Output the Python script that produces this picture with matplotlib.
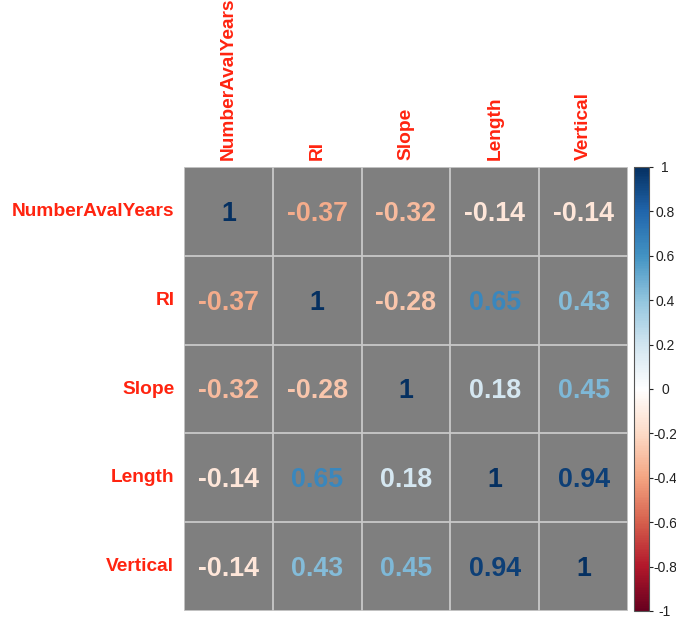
import matplotlib
matplotlib.use("Agg")
import matplotlib.pyplot as plt
import numpy as np
from matplotlib.colors import LinearSegmentedColormap, Normalize
from matplotlib.cm import ScalarMappable

plt.rcParams['font.family'] = ['Liberation Sans', 'DejaVu Sans']

variables = ["NumberAvalYears", "RI", "Slope", "Length", "Vertical"]
row_numberavalyears = [1, -0.37, -0.32, -0.14, -0.14]
row_ri = [-0.37, 1, -0.28, 0.65, 0.43]
row_slope = [-0.32, -0.28, 1, 0.18, 0.45]
row_length = [-0.14, 0.65, 0.18, 1, 0.94]
row_vertical = [-0.14, 0.43, 0.45, 0.94, 1]
corr = np.array([row_numberavalyears, row_ri, row_slope, row_length, row_vertical])

cbar_ticks = [-1, -0.8, -0.6, -0.4, -0.2, 0, 0.2, 0.4, 0.6, 0.8, 1]
cbar_labels = ["-1", "-0.8", "-0.6", "-0.4", "-0.2", "0", "0.2", "0.4", "0.6", "0.8", "1"]

# diverging red-white-blue palette
palette = ["#67001F", "#B2182B", "#D6604D", "#F4A582", "#FDDBC7", "#FFFFFF",
           "#D1E5F0", "#92C5DE", "#4393C3", "#2166AC", "#053061"]
cmap = LinearSegmentedColormap.from_list("rdbu2", palette, N=256)
norm = Normalize(vmin=-1, vmax=1)

W, H = 676, 619
fig = plt.figure(figsize=(W / 100, H / 100), dpi=100)

gl, gr, gt, gb = 184, 628, 167, 611
ax = fig.add_axes([gl / W, (H - gb) / H, (gr - gl) / W, (gb - gt) / H])
n = len(variables)
ax.set_xlim(-0.5, n - 0.5)
ax.set_ylim(n - 0.5, -0.5)
ax.set_facecolor("#7F7F7F")
grid_col = "#C9C9C9"
for k in range(n + 1):
    ax.axvline(k - 0.5, color=grid_col, lw=1.3, zorder=1)
    ax.axhline(k - 0.5, color=grid_col, lw=1.3, zorder=1)
for s in ax.spines.values():
    s.set_visible(False)
ax.set_xticks([])
ax.set_yticks([])

for i in range(n):
    for j in range(n):
        v = corr[i, j]
        ax.annotate(f"{v:g}", xy=(j, i), xycoords="data",
                    xytext=(0, -1.8), textcoords="offset points",
                    ha="center", va="center", fontsize=19.3,
                    fontweight="bold", color=cmap(norm(v)), zorder=3)

label_col = "#FF2410"
for i, name in enumerate(variables):
    # row labels on the left
    ax.annotate(name, xy=(-0.5, i), xycoords="data",
                xytext=(-7, 0), textcoords="offset points",
                ha="right", va="center", fontsize=13.8,
                fontweight="bold", color=label_col, annotation_clip=False)
    # column labels on top
    ax.annotate(name, xy=(i, -0.5), xycoords="data",
                xytext=(0, 5), textcoords="offset points",
                rotation=90, ha="center", va="bottom", fontsize=13.8,
                fontweight="bold", color=label_col, annotation_clip=False)

cax = fig.add_axes([634 / W, (H - gb) / H, 15 / W, (gb - gt) / H])
sm = ScalarMappable(norm=norm, cmap=cmap)
cb = fig.colorbar(sm, cax=cax, ticks=cbar_ticks)
cb.ax.set_yticklabels(cbar_labels)
cb.ax.tick_params(labelsize=10, length=3, width=0.8, colors="#222222", pad=8.5)
for lbl in cb.ax.get_yticklabels():
    lbl.set_horizontalalignment("center")
cb.outline.set_edgecolor("#555555")
cb.outline.set_linewidth(0.8)

fig.savefig("out.png", dpi=100)
